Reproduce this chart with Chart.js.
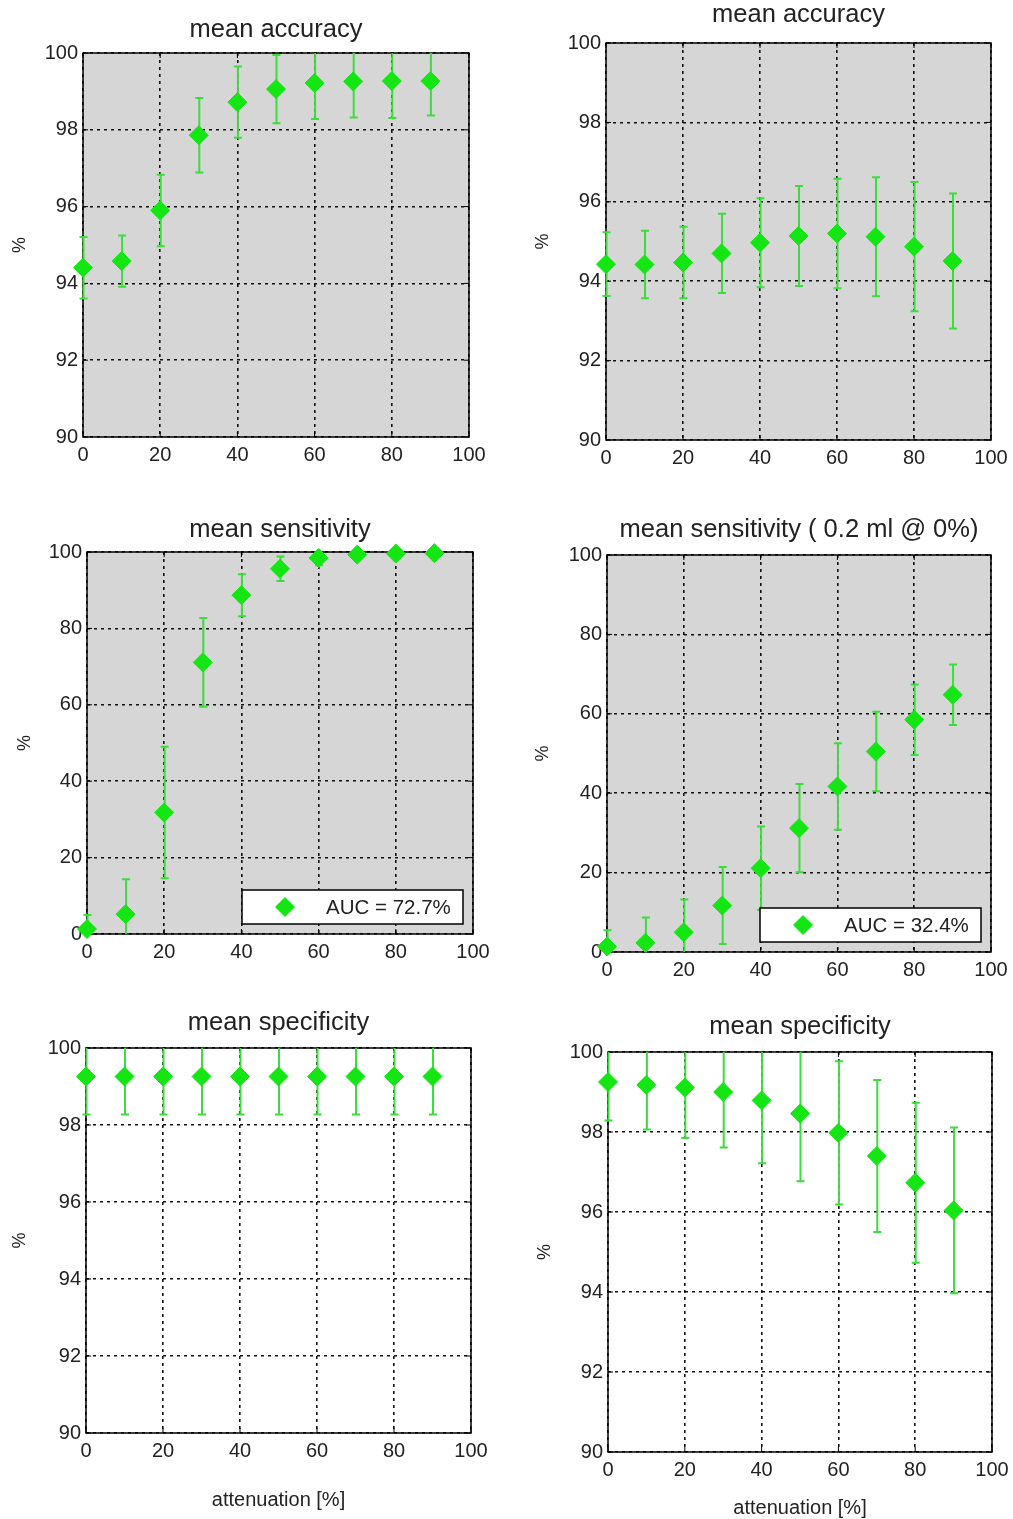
<!DOCTYPE html>
<html>
<head>
<meta charset="utf-8">
<script src="https://cdn.jsdelivr.net/npm/chart.js@4.4.1/dist/chart.umd.min.js"></script>
<style>
  body { margin: 0; background: #fff; width: 1013px; height: 1519px; position: relative; overflow: hidden; }
  .panel { position: absolute; }
</style>
</head>
<body>
<div class="panel" id="p1"><canvas id="c1"></canvas></div>
<div class="panel" id="p2"><canvas id="c2"></canvas></div>
<div class="panel" id="p3"><canvas id="c3"></canvas></div>
<div class="panel" id="p4"><canvas id="c4"></canvas></div>
<div class="panel" id="p5"><canvas id="c5"></canvas></div>
<div class="panel" id="p6"><canvas id="c6"></canvas></div>
<script>
// attenuation levels (x axis)
const attenuation = [0, 10, 20, 30, 40, 50, 60, 70, 80, 90];
const xTicks = [0, 20, 40, 60, 80, 100];

// mean accuracy, left / right column
const accMeanA = [94.41, 94.58, 95.90, 97.86, 98.72, 99.06, 99.22, 99.26, 99.27, 99.27];
const accErrA  = [0.80, 0.67, 0.93, 0.97, 0.93, 0.89, 0.94, 0.94, 0.96, 0.90];
const accMeanB = [94.43, 94.42, 94.47, 94.70, 94.97, 95.14, 95.20, 95.12, 94.87, 94.51];
const accErrB  = [0.80, 0.85, 0.90, 1.00, 1.12, 1.26, 1.38, 1.50, 1.63, 1.70];

// mean sensitivity
const sensMeanA = [1.3, 5.2, 31.8, 71.1, 88.7, 95.6, 98.4, 99.3, 99.6, 99.7];
const sensErrA  = [3.7, 9.1, 17.2, 11.6, 5.5, 3.2, 1.9, 0.8, 0.5, 0.4];
const sensMeanB = [1.4, 2.3, 5.0, 11.7, 21.1, 31.2, 41.7, 50.5, 58.5, 64.8];
const sensErrB  = [4.1, 6.4, 8.2, 9.7, 10.5, 11.1, 10.9, 10.0, 8.9, 7.6];
const aucLabels = ['AUC = 72.7%', 'AUC = 32.4%'];

// mean specificity
const specMeanA = [99.26, 99.26, 99.26, 99.26, 99.26, 99.26, 99.26, 99.26, 99.26, 99.26];
const specErrA  = [0.99, 0.99, 0.99, 0.99, 0.99, 0.99, 0.99, 0.99, 0.99, 0.99];
const specMeanB = [99.25, 99.18, 99.11, 99.00, 98.79, 98.46, 97.98, 97.40, 96.73, 96.04];
const specErrB  = [0.96, 1.12, 1.26, 1.39, 1.57, 1.69, 1.79, 1.90, 2.00, 2.07];

Chart.defaults.font.family = '"Liberation Sans", Arial, sans-serif';
Chart.defaults.color = '#222';

const FONT = '"Liberation Sans", Arial, sans-serif';
const GREEN = '#14e614';
const BAR_GREEN = '#3cdc3c';
const Y_W = 40, X_H = 30, PAD_L = 80, PAD_T = 50, PAD_R = 30, PAD_B = 80;

// gray plot background, black box and inward tick marks
const frame = {
  id: 'frame',
  beforeDraw(chart, args, opts) {
    const a = chart.chartArea, ctx = chart.ctx;
    if (opts.fill) {
      ctx.save();
      ctx.fillStyle = opts.fill;
      ctx.fillRect(a.left, a.top, a.right - a.left, a.bottom - a.top);
      ctx.restore();
    }
  },
  beforeDatasetsDraw(chart) {
    const a = chart.chartArea, ctx = chart.ctx;
    const {x, y} = chart.scales;
    ctx.save();
    ctx.strokeStyle = '#000';
    ctx.lineWidth = 1.5;
    ctx.strokeRect(a.left, a.top, a.right - a.left, a.bottom - a.top);
    ctx.lineWidth = 1;
    ctx.beginPath();
    x.ticks.forEach(t => {
      const px = x.getPixelForValue(t.value);
      ctx.moveTo(px, a.bottom); ctx.lineTo(px, a.bottom - 5);
      ctx.moveTo(px, a.top); ctx.lineTo(px, a.top + 5);
    });
    y.ticks.forEach(t => {
      const py = y.getPixelForValue(t.value);
      ctx.moveTo(a.left, py); ctx.lineTo(a.left + 5, py);
      ctx.moveTo(a.right, py); ctx.lineTo(a.right - 5, py);
    });
    ctx.stroke();
    ctx.restore();
  }
};

// vertical error bars with caps, clipped at top and bottom of the axes box
const errorBars = {
  id: 'errorBars',
  beforeDatasetsDraw(chart, args, opts) {
    const a = chart.chartArea, ctx = chart.ctx;
    const {x, y} = chart.scales;
    ctx.save();
    ctx.beginPath();
    ctx.rect(0, a.top, chart.width, a.bottom - a.top);
    ctx.clip();
    ctx.strokeStyle = BAR_GREEN;
    ctx.lineWidth = 2;
    chart.data.datasets[0].data.forEach((p, i) => {
      const px = x.getPixelForValue(p.x) + 0.5;
      const hi = y.getPixelForValue(p.y + opts.err[i]);
      const lo = y.getPixelForValue(p.y - opts.err[i]);
      ctx.beginPath();
      ctx.moveTo(px, hi); ctx.lineTo(px, lo);
      ctx.moveTo(px - 4, hi); ctx.lineTo(px + 4, hi);
      ctx.moveTo(px - 4, lo); ctx.lineTo(px + 4, lo);
      ctx.stroke();
    });
    ctx.restore();
  }
};

// title, y label, x label and the AUC box
const labels = {
  id: 'labels',
  afterDraw(chart, args, opts) {
    const a = chart.chartArea, ctx = chart.ctx;
    const cx = (a.left + a.right) / 2;
    ctx.save();
    ctx.fillStyle = '#222';
    ctx.textAlign = 'center';
    ctx.textBaseline = 'middle';
    ctx.font = '25.5px ' + FONT;
    ctx.fillText(opts.title, cx, a.top - opts.titleGap);

    ctx.font = '18px ' + FONT;
    ctx.save();
    ctx.translate(a.left - opts.yGap, (a.top + a.bottom) / 2);
    ctx.rotate(-Math.PI / 2);
    ctx.fillText('%', 0, 0);
    ctx.restore();

    if (opts.xlabel) {
      ctx.font = '20px ' + FONT;
      ctx.fillText(opts.xlabel, cx, a.bottom + opts.xGap);
    }

    const ds = chart.data.datasets[0];
    if (opts.legend) {
      const w = 221, h = 34;
      const bx = a.right - 10 - w, by = a.bottom - 10 - h;
      ctx.fillStyle = '#fff';
      ctx.fillRect(bx, by, w, h);
      ctx.strokeStyle = '#000';
      ctx.lineWidth = 1.5;
      ctx.strokeRect(bx, by, w, h);
      ctx.fillStyle = GREEN;
      ctx.strokeStyle = GREEN;
      ctx.lineWidth = 1;
      Chart.helpers.drawPoint(ctx, {pointStyle: 'rectRot', radius: 9.5, borderWidth: 1}, bx + 43, by + h / 2);
      ctx.fillStyle = '#222';
      ctx.textAlign = 'left';
      ctx.font = '20.5px ' + FONT;
      ctx.fillText(ds.label, bx + 84, by + h / 2 + 1);
    }
    ctx.restore();
  }
};

const panels = [
  {id: 'p1', canvas: 'c1', box: [83, 53, 469, 437], title: 'mean accuracy', yMin: 90, yMax: 100, yStep: 2,
   mean: accMeanA, err: accErrA, fill: '#d6d6d6', titleGap: 23, yGap: 63},
  {id: 'p2', canvas: 'c2', box: [606, 43, 991, 440], title: 'mean accuracy', yMin: 90, yMax: 100, yStep: 2,
   mean: accMeanB, err: accErrB, fill: '#d6d6d6', titleGap: 28, yGap: 63},
  {id: 'p3', canvas: 'c3', box: [87, 552, 473, 934], title: 'mean sensitivity', yMin: 0, yMax: 100, yStep: 20,
   mean: sensMeanA, err: sensErrA, fill: '#d6d6d6', titleGap: 22, yGap: 62, legend: aucLabels[0]},
  {id: 'p4', canvas: 'c4', box: [607, 555, 991, 952], title: 'mean sensitivity ( 0.2 ml @ 0%)', yMin: 0, yMax: 100, yStep: 20,
   mean: sensMeanB, err: sensErrB, fill: '#d6d6d6', titleGap: 25, yGap: 64, legend: aucLabels[1]},
  {id: 'p5', canvas: 'c5', box: [86, 1048, 471, 1433], title: 'mean specificity', yMin: 90, yMax: 100, yStep: 2,
   mean: specMeanA, err: specErrA, fill: null, titleGap: 25, yGap: 66, xlabel: 'attenuation [%]', xGap: 67},
  {id: 'p6', canvas: 'c6', box: [608, 1052, 992, 1452], title: 'mean specificity', yMin: 90, yMax: 100, yStep: 2,
   mean: specMeanB, err: specErrB, fill: null, titleGap: 25, yGap: 63, xlabel: 'attenuation [%]', xGap: 56}
];

panels.forEach(p => {
  const [l, t, r, b] = p.box;
  const W = (r - l) + PAD_L + PAD_R;
  const H = (b - t) + PAD_T + PAD_B;
  const div = document.getElementById(p.id);
  div.style.left = (l - PAD_L) + 'px';
  div.style.top = (t - PAD_T) + 'px';
  const cv = document.getElementById(p.canvas);
  cv.width = W;
  cv.height = H;

  const tickFont = {size: 20};
  new Chart(cv, {
    type: 'scatter',
    data: {
      datasets: [{
        label: p.legend || p.title,
        data: attenuation.map((x, i) => ({x: x, y: p.mean[i]})),
        pointStyle: 'rectRot',
        pointRadius: 9.5,
        backgroundColor: GREEN,
        borderColor: GREEN,
        borderWidth: 1,
        showLine: false,
        clip: false
      }]
    },
    options: {
      responsive: false,
      animation: false,
      events: [],
      layout: {padding: {left: PAD_L - Y_W, top: PAD_T, right: PAD_R, bottom: PAD_B - X_H}},
      scales: {
        x: {
          type: 'linear', min: 0, max: 100,
          afterBuildTicks: s => { s.ticks = xTicks.map(v => ({value: v})); },
          afterFit: s => { s.height = X_H; },
          ticks: {font: tickFont, color: '#222', padding: 6, maxRotation: 0, autoSkip: false},
          grid: {color: '#111', lineWidth: 1.6, drawTicks: false},
          border: {display: false, dash: [3, 4]}
        },
        y: {
          type: 'linear', min: p.yMin, max: p.yMax,
          ticks: {stepSize: p.yStep, font: tickFont, color: '#222', padding: 5},
          afterFit: s => { s.width = Y_W; },
          grid: {color: '#111', lineWidth: 1.6, drawTicks: false},
          border: {display: false, dash: [3, 4]}
        }
      },
      plugins: {
        legend: {display: false},
        tooltip: {enabled: false},
        frame: {fill: p.fill},
        errorBars: {err: p.err},
        labels: {title: p.title, titleGap: p.titleGap, yGap: p.yGap, xlabel: p.xlabel, xGap: p.xGap, legend: !!p.legend}
      }
    },
    plugins: [frame, errorBars, labels]
  });
});
</script>
</body>
</html>
